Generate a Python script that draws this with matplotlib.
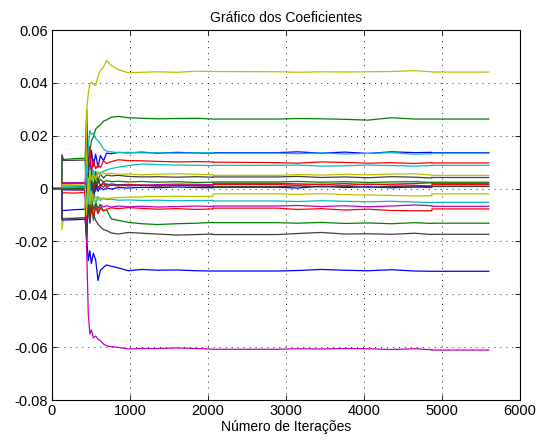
import matplotlib
matplotlib.use("Agg")
import matplotlib.pyplot as plt
import numpy as np

plt.rcParams['font.family'] = ['Liberation Sans', 'DejaVu Sans']
plt.rcParams['lines.scale_dashes'] = False

# Iterations at which the coefficient trajectories are sampled
iteracoes = [0, 127, 128, 145, 280, 425, 445, 465, 485, 505, 530, 560, 590, 620,
             660, 700, 760, 850, 980, 1150, 1350, 1600, 1850, 2064, 2064, 2890,
             3150, 3450, 3750, 4050, 4350, 4650, 4870, 4870, 5600]

# Coefficient values (units of 1e-3), one list per filter tap
coef01 = [0, 0, -8.3, -8.3, -8.0, -7.8, 4.0, 11.5, 6.0, 14.5, 8.5, 13.0, 8.0, 12.5, 10.5, 13.4, 13.2, 13.7, 13.5, 13.8, 13.4, 13.7, 13.5, 13.4, 13.6, 13.6, 13.9, 13.4, 13.8, 13.3, 13.9, 13.6, 13.7, 13.6, 13.6]
coef02 = [0, 0, 12.8, 11.0, 11.3, 11.5, 30.0, 8.0, 14.0, 18.0, 19.5, 22.5, 23.5, 24.0, 25.5, 26.0, 27.0, 27.3, 26.8, 26.6, 26.4, 26.5, 26.6, 26.3, 26.3, 26.3, 26.5, 26.4, 26.2, 25.9, 26.8, 26.3, 26.3, 26.3, 26.3]
coef03 = [0, 0, -1.6, -1.6, -1.7, -1.5, 19.0, 10.0, 16.0, 6.0, 11.0, 7.5, 9.0, 8.0, 10.5, 9.5, 10.2, 10.9, 10.6, 10.5, 10.3, 10.1, 10.2, 10.1, 10.0, 9.8, 9.6, 10.1, 9.9, 9.6, 9.8, 9.5, 9.8, 9.7, 9.7]
coef04 = [0, 0, 2.0, 2.0, 2.1, 2.0, 6.0, 15.0, 22.0, 20.5, 21.0, 19.0, 18.0, 17.0, 15.0, 14.2, 13.9, 13.6, 13.7, 13.5, 13.6, 13.4, 13.5, 13.6, 13.4, 13.4, 13.2, 13.5, 13.1, 13.3, 13.6, 13.0, 13.2, 13.4, 13.4]
coef05 = [0, 0, 2.2, 2.2, 2.2, 2.3, 18.0, -4.0, 10.0, 3.0, 6.0, -1.0, 3.5, 1.0, 2.5, 1.2, 1.8, 1.4, 1.6, 1.3, 1.5, 1.7, 1.6, 1.5, 2.0, 2.0, 1.8, 1.6, 1.9, 1.5, 1.7, 1.9, 2.2, 2.0, 2.0]
coef06 = [0, 0, -15.5, -11.2, -11.1, -11.0, 29.5, 36.0, 39.5, 40.3, 39.5, 39.0, 42.5, 44.7, 46.0, 48.5, 46.6, 45.0, 43.8, 44.0, 44.2, 44.0, 44.4, 44.3, 44.3, 44.2, 44.0, 44.2, 44.1, 44.2, 44.3, 44.6, 44.2, 44.1, 44.1]
coef07 = [0, 0, 12.5, 10.6, 10.7, 10.8, -6.0, 12.0, 2.0, 8.0, -2.0, 6.5, 3.0, 5.5, 4.0, 5.2, 4.8, 5.0, 4.6, 4.4, 4.5, 4.3, 4.5, 4.3, 4.4, 4.4, 4.6, 4.2, 4.4, 4.1, 4.5, 4.3, 4.0, 4.2, 4.2]
coef08 = [0, 0, -11.9, -11.9, -11.8, -11.6, -20.0, -3.0, -12.0, 2.0, -5.0, 1.5, -1.0, 0.5, -0.5, 0.3, -0.2, 0.4, 0.2, 0.5, 0.3, 0.6, 0.4, 0.3, 0.5, 0.5, 0.2, 0.9, 0.4, 0.7, 0.3, 0.6, 0.9, 0.8, 0.8]
coef09 = [0, 0, 0.5, 0.5, 0.6, 0.8, -8.0, 6.0, -3.0, 4.0, 1.0, 5.0, 2.0, 3.5, 2.5, 3.0, 2.6, 2.8, 2.5, 2.7, 2.4, 2.6, 2.3, 2.4, 2.5, 2.5, 2.7, 2.4, 2.6, 2.3, 2.5, 2.6, 2.3, 2.4, 2.4]
coef10 = [0, 0, 0.3, 0.3, 0.2, 0.3, -12.0, 4.0, -6.0, 2.0, -2.5, 3.0, 0.5, 1.0, 1.8, 0.8, 1.3, 1.0, 1.4, 1.2, 1.1, 1.3, 1.2, 1.0, 1.5, 1.5, 1.3, 1.6, 1.2, 1.7, 1.4, 1.2, 1.0, 1.5, 1.5]
coef11 = [0, 0, 1.0, 1.0, 1.1, 1.2, 10.0, -5.0, 8.0, 2.0, 7.0, 4.0, 5.5, 6.0, 6.5, 7.0, 7.6, 8.1, 8.7, 9.3, 9.1, 8.9, 8.8, 8.7, 8.8, 8.8, 8.9, 8.5, 8.6, 8.9, 8.7, 8.5, 8.7, 8.8, 8.8]
coef12 = [0, 0, 1.8, 1.8, 1.9, 2.0, -14.0, 3.0, -9.0, -2.0, -8.0, -5.5, -7.5, -6.0, -7.0, -6.5, -7.0, -6.6, -6.9, -6.7, -7.0, -6.8, -6.6, -6.8, -6.6, -6.6, -6.4, -6.8, -6.5, -6.9, -6.6, -6.2, -6.5, -6.7, -6.7]
coef13 = [0, 0, 0.2, 0.2, 0.3, 0.4, 14.0, -6.0, 7.0, 2.0, 5.5, 3.5, 6.5, 5.0, 6.0, 5.5, 5.8, 5.4, 5.5, 5.2, 5.4, 5.6, 5.4, 5.2, 5.0, 5.0, 5.3, 5.1, 5.4, 5.2, 5.5, 5.6, 5.1, 5.0, 5.0]
coef14 = [0, 0, -0.2, -0.2, -0.1, 0.0, -15.0, 6.0, -10.0, 3.0, -4.0, 2.5, 0.0, 1.5, 0.5, 1.8, 1.2, 1.5, 1.0, 1.3, 0.9, 1.2, 1.0, 0.8, 0.7, 0.7, 1.0, 0.6, 0.9, 0.5, 0.8, 0.6, 0.4, 0.8, 0.8]
coef15 = [0, 0, -0.5, -0.5, -0.5, -0.5, -19.0, -27.3, -23.5, -28.4, -24.5, -27.0, -34.8, -31.0, -29.8, -28.9, -29.4, -30.0, -31.1, -30.6, -30.9, -30.8, -31.1, -31.2, -31.2, -31.2, -31.0, -30.6, -30.9, -31.1, -30.7, -31.2, -31.3, -31.3, -31.3]
coef16 = [0, 0, 0.1, 0.1, 0.2, 0.3, -6.0, 5.0, -10.0, -2.0, -12.0, -5.0, -9.0, -6.5, -8.3, -8.0, -11.5, -12.0, -12.8, -13.3, -13.6, -13.3, -13.1, -12.8, -12.9, -12.9, -13.1, -12.8, -13.2, -13.0, -13.3, -12.9, -13.2, -13.1, -13.1]
coef17 = [0, 0, -0.3, -0.3, -0.4, -0.5, -16.0, -4.0, -13.0, -6.0, -11.0, -7.0, -9.5, -7.5, -8.5, -7.8, -7.3, -7.6, -7.2, -7.5, -7.8, -7.6, -7.9, -7.7, -7.4, -7.4, -7.9, -7.6, -8.1, -7.8, -8.3, -8.4, -8.4, -7.7, -7.7]
coef18 = [0, 0, 0.4, 0.4, 0.5, 0.6, 9.0, -8.0, 3.0, -6.0, -2.0, -5.5, -3.0, -4.5, -3.5, -4.2, -4.0, -4.4, -4.3, -4.5, -4.4, -4.6, -4.5, -4.5, -4.7, -4.7, -4.9, -4.6, -4.8, -5.0, -4.8, -5.1, -5.3, -5.2, -5.2]
coef19 = [0, 0, 2.1, 2.1, 2.0, 2.0, -23.5, -47.3, -55.0, -53.5, -56.5, -55.8, -57.0, -57.6, -58.8, -59.5, -59.8, -60.1, -60.7, -60.5, -60.5, -60.3, -60.5, -60.8, -60.8, -60.8, -60.6, -60.7, -60.5, -60.6, -60.9, -60.6, -61.0, -61.1, -61.1]
coef20 = [0, 0, 1.5, 1.5, 1.4, 1.3, -10.0, 4.0, -6.0, -1.0, -5.0, -3.0, -4.5, -3.5, -4.0, -3.8, -3.6, -3.4, -3.3, -3.1, -3.0, -2.9, -3.0, -2.9, -2.0, -2.0, -2.2, -1.9, -2.3, -2.4, -2.6, -2.8, -2.7, -2.0, -2.0]
coef21 = [0, 0, -11.5, -11.5, -11.3, -11.0, -18.0, -6.0, -13.0, -8.0, -9.5, -12.0, -13.5, -14.5, -15.5, -15.9, -16.8, -17.2, -16.6, -16.9, -17.2, -17.6, -17.4, -17.2, -17.4, -17.4, -17.0, -16.6, -17.2, -17.1, -17.3, -16.9, -17.4, -17.3, -17.3]

coeficientes = [coef01, coef02, coef03, coef04, coef05, coef06, coef07,
                coef08, coef09, coef10, coef11, coef12, coef13, coef14,
                coef15, coef16, coef17, coef18, coef19, coef20, coef21]

# Classic MATLAB line colour order
cores = [(0, 0, 1), (0, 0.5, 0), (1, 0, 0), (0, 0.75, 0.75),
         (0.75, 0, 0.75), (0.75, 0.75, 0), (0.25, 0.25, 0.25)]

fig = plt.figure(figsize=(5.39, 4.43), dpi=100)
ax = fig.add_axes([52 / 539, 1 - 400 / 443, 468 / 539, 370 / 443])

for k, c in enumerate(coeficientes):
    ax.plot(iteracoes, np.array(c) * 1e-3, color=cores[k % 7], lw=0.9)

ax.set_xlim(0, 6000)
ax.set_ylim(-0.08, 0.06)
ax.set_xticks(np.arange(0, 6001, 1000))
ax.set_yticks(np.arange(-0.08, 0.0601, 0.02))
ax.set_yticklabels(['-0.08', '-0.06', '-0.04', '-0.02', '0', '0.02', '0.04', '0.06'])
ax.grid(True, color='black', linestyle=(0, (0.7, 3.6)), linewidth=0.6)
ax.tick_params(direction='in', length=3.6, width=0.6, top=True, right=True,
               labelsize=10.5, pad=3, colors='black')
for s in ax.spines.values():
    s.set_linewidth(0.8)

ax.set_title('Gráfico dos Coeficientes', fontsize=10, pad=6)
ax.set_xlabel('Número de Iterações', fontsize=10, labelpad=1)

fig.savefig('out.png', dpi=100)
